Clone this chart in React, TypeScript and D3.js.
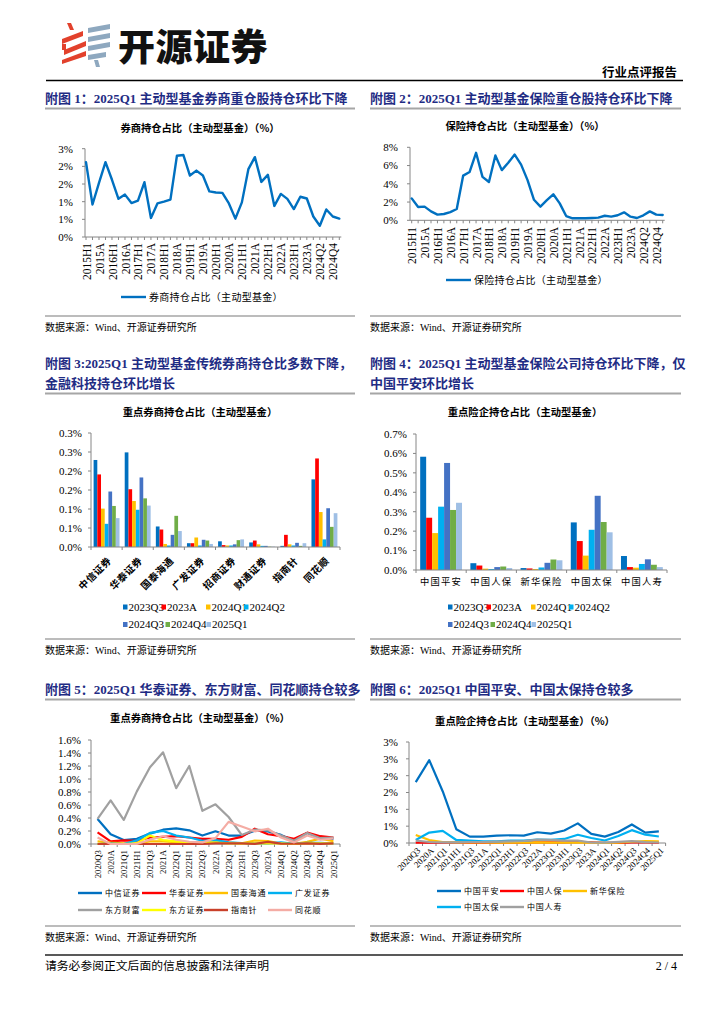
import React from 'react';
import * as d3 from 'd3';

const SERIF = "'Liberation Serif','Noto Sans CJK SC',serif";
const CJK = "'Noto Sans CJK SC',sans-serif";
const NAVY = '#1F2C84';
const AXIS = '#868686';
const SEP = '#A6A6A6';

// ---------- Data ----------
const quarters40 = ['2015H1','2015Q3','2015A','2016Q1','2016H1','2016Q3','2016A','2017Q1','2017H1','2017Q3','2017A','2018Q1','2018H1','2018Q3','2018A','2019Q1','2019H1','2019Q3','2019A','2020Q1','2020H1','2020Q3','2020A','2021Q1','2021H1','2021Q3','2021A','2022Q1','2022H1','2022Q3','2022A','2023Q1','2023H1','2023Q3','2023A','2024Q1','2024Q2','2024Q3','2024Q4','2025Q1'];
const brokerShare = [2.12,0.92,1.53,2.12,1.62,1.08,1.2,0.96,1.03,1.55,0.54,0.95,1.0,1.06,2.3,2.32,1.74,1.88,1.74,1.29,1.26,1.25,0.95,0.52,0.98,1.92,2.26,1.56,1.76,0.88,1.22,1.08,0.79,1.14,1.09,0.58,0.32,0.78,0.58,0.52];
const insuranceShare = [2.4,1.45,1.5,0.98,0.62,0.69,0.9,1.24,4.9,5.3,7.4,4.76,4.2,7.1,5.5,6.3,7.2,6.1,4.4,2.25,1.5,2.2,2.85,1.85,0.47,0.22,0.22,0.22,0.25,0.29,0.5,0.4,0.55,0.87,0.4,0.25,0.55,0.98,0.62,0.58];
const brokerTicks = [0,0.5,1,1.5,2,2.5];
const brokerTickLabels = ['0%','1%','1%','2%','2%','3%'];
const insTicks = [0,2,4,6,8];
const insTickLabels = ['0%','2%','4%','6%','8%'];

const barPeriods = ['2023Q3','2023A','2024Q1','2024Q2','2024Q3','2024Q4','2025Q1'];
const barColors = ['#0070C0','#FF0000','#FFC000','#00B0F0','#4472C4','#70AD47','#9FBFE5'];
const brokerNames = ['中信证券','华泰证券','国泰海通','广发证券','招商证券','财通证券','指南针','同花顺'];
const brokerBars = [
  [0.229,0.249,0.054,0.010,0.015,0.012,0.003,0.178],
  [0.191,0.152,0.046,0.010,0.005,0.017,0.032,0.233],
  [0.101,0.121,0.008,0.025,0.004,0.007,0.007,0.092],
  [0.061,0.098,0.004,0.004,0.004,0.003,0.004,0.020],
  [0.146,0.183,0.032,0.019,0.007,0.003,0.011,0.102],
  [0.108,0.128,0.082,0.017,0.018,0.001,0.003,0.053],
  [0.076,0.109,0.042,0.008,0.020,0.001,0.010,0.089],
];
const brokerBarTicks = [0,0.05,0.1,0.15,0.2,0.25,0.3];
const brokerBarTickLabels = ['0.0%','0.1%','0.1%','0.2%','0.2%','0.3%','0.3%'];

const insurerNames = ['中国平安','中国人保','新华保险','中国太保','中国人寿'];
const insurerBars = [
  [0.583,0.035,0.010,0.245,0.072],
  [0.269,0.023,0.008,0.149,0.015],
  [0.190,0.007,0.005,0.074,0.012],
  [0.326,0.005,0.013,0.207,0.031],
  [0.551,0.015,0.037,0.382,0.055],
  [0.309,0.018,0.054,0.247,0.027],
  [0.346,0.010,0.050,0.194,0.015],
];
const insBarTicks = [0,0.1,0.2,0.3,0.4,0.5,0.6,0.7];
const insBarTickLabels = ['0.0%','0.1%','0.2%','0.3%','0.4%','0.5%','0.6%','0.7%'];

const periods19 = ['2020Q3','2020A','2021Q1','2021H1','2021Q3','2021A','2022Q1','2022H1','2022Q3','2022A','2023Q1','2023H1','2023Q3','2023A','2024Q1','2024Q2','2024Q3','2024Q4','2025Q1'];
const brokerLineNames = ['中信证券','华泰证券','国泰海通','广发证券','东方财富','东方证券','指南针','同花顺'];
const brokerLineColors = ['#0070C0','#FF0000','#FFC000','#00B0F0','#A0A0A0','#FFFF00','#C9402A','#F4ACA4'];
const brokerLines = [
  [0.385,0.15,0.06,0.08,0.16,0.22,0.24,0.21,0.13,0.195,0.13,0.13,0.205,0.195,0.14,0.05,0.17,0.09,0.08],
  [0.18,0.04,0.055,0.05,0.1,0.11,0.12,0.1,0.08,0.08,0.065,0.11,0.235,0.15,0.12,0.08,0.175,0.12,0.1],
  [0.04,0.02,0.01,0.01,0.04,0.04,0.03,0.03,0.02,0.03,0.02,0.01,0.054,0.046,0.008,0.004,0.032,0.082,0.042],
  [0.0,0.005,0.0,0.055,0.17,0.2,0.13,0.1,0.05,0.06,0.025,0.015,0.01,0.01,0.025,0.004,0.019,0.017,0.008],
  [0.385,0.67,0.37,0.81,1.18,1.41,0.86,1.2,0.51,0.61,0.415,0.14,0.22,0.21,0.13,0.05,0.17,0.09,0.1],
  [0.0,0.0,0.0,0.01,0.13,0.06,0.04,0.03,0.02,0.02,0.01,0.01,0.01,0.01,0.01,0.0,0.01,0.01,0.01],
  [0,0,0,0,0,0,0,0,0,0.01,0.01,0.01,0.003,0.032,0.007,0.004,0.011,0.003,0.01],
  [0.1,0.0,0.0,0.0,0.065,0.12,0.065,0.035,0.025,0.09,0.34,0.27,0.195,0.235,0.1,0.025,0.13,0.065,0.085],
];
const brokerLineTicks = [0,0.2,0.4,0.6,0.8,1.0,1.2,1.4,1.6];
const brokerLineTickLabels = ['0.0%','0.2%','0.4%','0.6%','0.8%','1.0%','1.2%','1.4%','1.6%'];

const insLineNames = ['中国平安','中国人保','新华保险','中国太保','中国人寿'];
const insLineColors = ['#0070C0','#FF0000','#FFC000','#00B0F0','#A0A0A0'];
const insLines = [
  [1.81,2.46,1.53,0.41,0.19,0.19,0.22,0.23,0.22,0.32,0.28,0.37,0.583,0.269,0.19,0.326,0.551,0.309,0.346],
  [0.01,0.01,0.01,0.01,0.01,0.01,0.01,0.01,0.01,0.02,0.02,0.02,0.035,0.023,0.007,0.005,0.015,0.018,0.01],
  [0.24,0.09,0.03,0.02,0.02,0.02,0.01,0.01,0.01,0.02,0.01,0.01,0.01,0.008,0.005,0.013,0.037,0.054,0.05],
  [0.09,0.31,0.36,0.09,0.07,0.05,0.05,0.07,0.07,0.1,0.09,0.12,0.245,0.149,0.074,0.207,0.382,0.247,0.194],
  [0.07,0.03,0.02,0.02,0.03,0.03,0.04,0.05,0.06,0.1,0.09,0.07,0.072,0.015,0.012,0.031,0.055,0.027,0.015],
];
const insLineTicks = [0,0.5,1,1.5,2,2.5,3];
const insLineTickLabels = ['0%','1%','1%','2%','2%','3%','3%'];

// ---------- Helpers ----------
function YAxis({ x, y, ticks, labels, labelRight, size = 11 }: any) {
  const r = y.range();
  return (
    <g>
      <line x1={x} x2={x} y1={r[0]} y2={r[1]} stroke={AXIS} strokeWidth={1} />
      {ticks.map((t: number, i: number) => (
        <g key={i}>
          <line x1={x - 3} x2={x} y1={y(t)} y2={y(t)} stroke={AXIS} strokeWidth={1} />
          <text x={labelRight} y={y(t)} dy="0.35em" textAnchor="end" fontFamily={SERIF} fontSize={size} fill="#000">{labels[i]}</text>
        </g>
      ))}
    </g>
  );
}

function ChartTitle({ x, y, text }: any) {
  return <text x={x} y={y} dy="0.35em" textAnchor="middle" fontFamily={CJK} fontWeight={700} fontSize={10.3} fill="#000">{text}</text>;
}

function SectionTitle({ x, y, lines, x2 }: any) {
  return (
    <g>
      {lines.map((l: string, i: number) => (
        <text key={i} x={x} y={y + i * 20} dy="0.35em" fontFamily={SERIF} fontWeight={700} fontSize={13} fill={NAVY}>{l}</text>
      ))}
      <line x1={x} x2={x2} y1={y + (lines.length - 1) * 20 + 10.5} y2={y + (lines.length - 1) * 20 + 10.5} stroke={SEP} strokeWidth={2} />
    </g>
  );
}

function Source({ x, x2, y }: any) {
  return (
    <g>
      <line x1={x} x2={x2} y1={y - 11} y2={y - 11} stroke={SEP} strokeWidth={1.5} />
      <text x={x} y={y} dy="0.35em" fontFamily={SERIF} fontSize={10} fill="#000">数据来源：Wind、开源证券研究所</text>
    </g>
  );
}

function QuarterLineChart({ data, yMax, yTop, yBottom, axisX, x0, x1, ticks, tickLabels, labelRight, labelTop, legendY, legendX, legendText, title, titleX, titleY }: any) {
  const x = d3.scalePoint<string>().domain(quarters40).range([x0, x1]);
  const y = d3.scaleLinear().domain([0, yMax]).range([yBottom, yTop]);
  const path = d3.line<number>().x((_, i) => x(quarters40[i])!).y(d => y(d))(data) || '';
  return (
    <g>
      <ChartTitle x={titleX} y={titleY} text={title} />
      <YAxis x={axisX} y={y} ticks={ticks} labels={tickLabels} labelRight={labelRight} />
      <line x1={axisX} x2={x1 + 2} y1={yBottom} y2={yBottom} stroke={AXIS} strokeWidth={1} />
      {quarters40.map((q) => (
        <line key={q} x1={x(q)} x2={x(q)} y1={yBottom} y2={yBottom + 3} stroke={AXIS} strokeWidth={1} />
      ))}
      {quarters40.map((q, i) => i % 2 === 0 ? (
        <text key={'l' + q} transform={`translate(${x(q)! + 0.5},${labelTop}) rotate(-90)`} dy="0.35em" textAnchor="end" fontFamily={SERIF} fontSize={11.5} fill="#000">{q}</text>
      ) : null)}
      <path d={path} fill="none" stroke="#0070C0" strokeWidth={2.4} strokeLinejoin="round" strokeLinecap="round" />
      <line x1={legendX} x2={legendX + 25} y1={legendY} y2={legendY} stroke="#0070C0" strokeWidth={2.4} />
      <text x={legendX + 28} y={legendY} dy="0.35em" fontFamily={CJK} fontSize={10} letterSpacing={0.3} fill="#000">{legendText}</text>
    </g>
  );
}

function BarChart({ cats, values, yMax, yTop, yBottom, x0, x1, ticks, tickLabels, labelRight, title, titleX, titleY, rotated, legendX, legendY }: any) {
  const x = d3.scaleBand<string>().domain(cats).range([x0, x1]).padding(0);
  const y = d3.scaleLinear().domain([0, yMax]).range([yBottom, yTop]);
  const bw = x.bandwidth();
  const groupW = bw / 1.2;
  const inner = d3.scaleBand<string>().domain(barPeriods).range([0, groupW]).padding(0);
  const legendRows = [[0, 1, 2, 3], [4, 5, 6]];
  const legendOffsets = [[0, 38.5, 83, 121], [0, 42.5, 83.5]];
  return (
    <g>
      <ChartTitle x={titleX} y={titleY} text={title} />
      {values.map((ser: number[], si: number) => (
        <g key={si}>
          {ser.map((v, ci) => (
            <rect key={ci} x={x(cats[ci])! + (bw - groupW) / 2 + inner(barPeriods[si])!} y={y(v)} width={inner.bandwidth()} height={yBottom - y(v)} fill={barColors[si]} />
          ))}
        </g>
      ))}
      <YAxis x={x0} y={y} ticks={ticks} labels={tickLabels} labelRight={labelRight} />
      <line x1={x0} x2={x1} y1={yBottom} y2={yBottom} stroke={AXIS} strokeWidth={1} />
      {[...cats.map((c: string) => x(c)!), x1].map((v: number, i: number) => (
        <line key={i} x1={v} x2={v} y1={yBottom} y2={yBottom + 3} stroke={AXIS} strokeWidth={1} />
      ))}
      {cats.map((c: string) => rotated ? (
        <text key={c} transform={`translate(${x(c)! + bw / 2 + 3},${yBottom + 12}) rotate(-45)`} dy="0.35em" textAnchor="end" fontFamily={CJK} fontWeight={700} fontSize={9.8} letterSpacing={0.5} fill="#000">{c}</text>
      ) : (
        <text key={c} x={x(c)! + bw / 2} y={yBottom + 12} dy="0.35em" textAnchor="middle" fontFamily={CJK} fontSize={9.3} letterSpacing={1.2} fill="#000">{c}</text>
      ))}
      {legendRows.map((row, ri) => row.map((si, k) => (
        <g key={si}>
          <rect x={legendX + legendOffsets[ri][k]} y={legendY + ri * 17.5 - 2.5} width={4.5} height={5} fill={barColors[si]} />
          <text x={legendX + legendOffsets[ri][k] + 5.5} y={legendY + ri * 17.5} dy="0.35em" fontFamily={SERIF} fontSize={11} fill="#000">{barPeriods[si]}</text>
        </g>
      )))}
    </g>
  );
}

function MultiLineChart({ names, colors, series, yMax, yTop, yBottom, x0, x1, ticks, tickLabels, labelRight, title, titleX, titleY, rot45, legendXs, legendY, rowGap, perRow }: any) {
  const x = d3.scaleBand<string>().domain(periods19).range([x0, x1]).padding(0);
  const y = d3.scaleLinear().domain([0, yMax]).range([yBottom, yTop]);
  const cx = (p: string) => x(p)! + x.bandwidth() / 2;
  const gen = d3.line<number>().x((_, i) => cx(periods19[i])).y(d => y(d));
  return (
    <g>
      <ChartTitle x={titleX} y={titleY} text={title} />
      <YAxis x={x0} y={y} ticks={ticks} labels={tickLabels} labelRight={labelRight} />
      <line x1={x0} x2={x1} y1={yBottom} y2={yBottom} stroke={AXIS} strokeWidth={1} />
      {[...periods19.map(p => x(p)!), x1].map((v, i) => (
        <line key={i} x1={v} x2={v} y1={yBottom} y2={yBottom + 3} stroke={AXIS} strokeWidth={1} />
      ))}
      {series.map((s: number[], i: number) => (
        <path key={i} d={gen(s) || ''} fill="none" stroke={colors[i]} strokeWidth={2.2} strokeLinejoin="round" />
      ))}
      {periods19.map(p => rot45 ? (
        <text key={p} transform={`translate(${cx(p) + 3},${yBottom + 6}) rotate(-45)`} dy="0.35em" textAnchor="end" fontFamily={SERIF} fontSize={8.8} fill="#000">{p}</text>
      ) : (
        <text key={p} transform={`translate(${cx(p)},${yBottom + 6}) rotate(-90)`} dy="0.35em" textAnchor="end" fontFamily={SERIF} fontSize={8.8} fill="#000">{p}</text>
      ))}
      {names.map((n: string, i: number) => {
        const row = Math.floor(i / perRow);
        const col = i % perRow;
        const lx = legendXs[col];
        const ly = legendY + row * rowGap;
        return (
          <g key={n}>
            <line x1={lx} x2={lx + 24} y1={ly} y2={ly} stroke={colors[i]} strokeWidth={2.4} />
            <text x={lx + 27} y={ly} dy="0.35em" fontFamily={CJK} fontSize={8} letterSpacing={0.8} fill="#000">{n}</text>
          </g>
        );
      })}
    </g>
  );
}

function Header() {
  const red = '#E2412C';
  const blue = '#8EA8BF';
  return (
    <g>
      <polygon points="67,23 71,23 74,30 70,30" fill={red} />
      <polygon points="62,39 83,31 83,36 62,44" fill={red} />
      <polygon points="64,50 86,41 86,46 64,55" fill={red} />
      <polygon points="62,60 86,51 86,56 62,64" fill={red} />
      <polygon points="62,44 66,44 66,50 62,50" fill={red} />
      <polygon points="88,28 110,24 110,29 88,33" fill={blue} />
      <polygon points="88,37 110,33 110,38 88,42" fill={blue} />
      <polygon points="88,46 110,42 110,47 88,51" fill={blue} />
      <polygon points="88,55 106,52 106,57 88,60" fill={blue} />
      <polygon points="94,60 98,60 100,67 96,67" fill={blue} />
      <text x={118} y={61} fontFamily={CJK} fontWeight={900} fontSize={37} letterSpacing={0.5} fill="#111">开源证券</text>
      <text x={677} y={73} dy="0.35em" textAnchor="end" fontFamily={CJK} fontWeight={700} fontSize={12.5} fill="#000">行业点评报告</text>
      <line x1={46} x2={683} y1={80.5} y2={80.5} stroke="#000" strokeWidth={1.5} />
    </g>
  );
}

export default function App() {
  return (
    <svg width={724} height={1024} viewBox="0 0 724 1024" style={{ position: 'absolute', left: 0, top: 0, background: '#fff' }}>
      <rect width={724} height={1024} fill="#fff" />
      <Header />

      <SectionTitle x={45} x2={355} y={98} lines={['附图 1：2025Q1 主动型基金券商重仓股持仓环比下降']} />
      <SectionTitle x={370} x2={681} y={98} lines={['附图 2：2025Q1 主动型基金保险重仓股持仓环比下降']} />

      <QuarterLineChart data={brokerShare} yMax={2.5} yTop={148.7} yBottom={237} axisX={85} x0={86} x1={339.3}
        ticks={brokerTicks} tickLabels={brokerTickLabels} labelRight={73} labelTop={243}
        legendY={297} legendX={121} legendText="券商持仓占比（主动型基金）"
        title="券商持仓占比（主动型基金）（%）" titleX={200} titleY={128} />
      <QuarterLineChart data={insuranceShare} yMax={8} yTop={147.3} yBottom={220.3} axisX={410} x0={411.7} x1={662.7}
        ticks={insTicks} tickLabels={insTickLabels} labelRight={398} labelTop={227}
        legendY={280} legendX={446} legendText="保险持仓占比（主动型基金）"
        title="保险持仓占比（主动型基金）（%）" titleX={525} titleY={126} />

      <Source x={45} x2={355} y={327} />
      <Source x={370} x2={681} y={327} />

      <SectionTitle x={45} x2={355} y={363} lines={['附图 3:2025Q1 主动型基金传统券商持仓比多数下降，', '金融科技持仓环比增长']} />
      <SectionTitle x={370} x2={681} y={363} lines={['附图 4：2025Q1 主动型基金保险公司持仓环比下降，仅', '中国平安环比增长']} />

      <BarChart cats={brokerNames} values={brokerBars} yMax={0.3} yTop={433} yBottom={547} x0={91} x1={340}
        ticks={brokerBarTicks} tickLabels={brokerBarTickLabels} labelRight={82}
        title="重点券商持仓占比（主动型基金）" titleX={200} titleY={412} rotated={true} legendX={123} legendY={607} />
      <BarChart cats={insurerNames} values={insurerBars} yMax={0.7} yTop={434} yBottom={570} x0={416} x1={667}
        ticks={insBarTicks} tickLabels={insBarTickLabels} labelRight={407}
        title="重点险企持仓占比（主动型基金）" titleX={525} titleY={412} rotated={false} legendX={448} legendY={607} />

      <Source x={45} x2={355} y={650} />
      <Source x={370} x2={681} y={650} />

      <SectionTitle x={45} x2={355} y={689} lines={['附图 5：2025Q1 华泰证券、东方财富、同花顺持仓较多']} />
      <SectionTitle x={370} x2={681} y={689} lines={['附图 6：2025Q1 中国平安、中国太保持仓较多']} />

      <MultiLineChart names={brokerLineNames} colors={brokerLineColors} series={brokerLines} yMax={1.6} yTop={740} yBottom={844}
        x0={91} x1={340} ticks={brokerLineTicks} tickLabels={brokerLineTickLabels} labelRight={81}
        title="重点券商持仓占比（主动型基金）（%）" titleX={200} titleY={718} rot45={false}
        legendXs={[78, 142, 204, 268]} legendY={893} rowGap={17} perRow={4} />
      <MultiLineChart names={insLineNames} colors={insLineColors} series={insLines} yMax={3} yTop={742} yBottom={843}
        x0={409} x1={665.6} ticks={insLineTicks} tickLabels={insLineTickLabels} labelRight={398}
        title="重点险企持仓占比（主动型基金）（%）" titleX={525} titleY={721} rot45={true}
        legendXs={[437, 500, 563]} legendY={891} rowGap={16} perRow={3} />

      <Source x={45} x2={355} y={937} />
      <Source x={370} x2={681} y={937} />

      <line x1={45} x2={683} y1={955} y2={955} stroke="#595959" strokeWidth={2} />
      <text x={45} y={966} dy="0.35em" fontFamily={CJK} fontSize={11.8} fill="#000">请务必参阅正文后面的信息披露和法律声明</text>
      <text x={677} y={966} dy="0.35em" textAnchor="end" fontFamily={SERIF} fontSize={12} fill="#000">2 / 4</text>
    </svg>
  );
}
